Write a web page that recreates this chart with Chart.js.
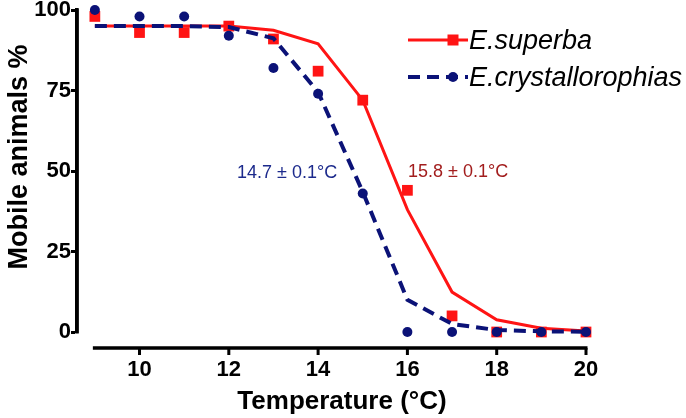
<!DOCTYPE html>
<html>
<head>
<meta charset="utf-8">
<script src="https://cdn.jsdelivr.net/npm/chart.js@4/dist/chart.umd.min.js"></script>
<style>
html,body{margin:0;padding:0;background:#fff;}
</style>
</head>
<body>
<canvas id="c" width="686" height="418"></canvas>
<script>
const temperatures = [9, 10, 11, 12, 13, 14, 15, 16, 17, 18, 19, 20];
const superbaObserved = [98, 93, 93, 95, 91, 81, 72, 44, 5, 0, 0, 0];
const superbaFit = [95, 95, 95, 95, 93.7, 89.5, 72, 38, 12.4, 3.8, 1.2, 0.3];
const crystalObserved = [100, 98, 98, 92, 82, 74, 43, 0, 0, 0, 0, 0];
const crystalFit = [95, 95, 95, 94.7, 91.2, 74.5, 43.5, 10, 2.5, 0.6, 0.2, 0.1];
const xTickValues = [10, 12, 14, 16, 18, 20];
const yTickValues = [0, 25, 50, 75, 100];
const seriesNames = ['E.superba', 'E.crystallorophias'];
const ld50Labels = ['14.7 \u00b1 0.1\u00b0C', '15.8 \u00b1 0.1\u00b0C'];

const RED = '#ff1414';
const NAVY = '#0b1277';
const FONT = "'Liberation Sans', Arial, sans-serif";

const pts = (ys) => temperatures.map((t, i) => ({x: t, y: ys[i]}));

const customPlugin = {
  id: 'custom',
  afterDraw(chart) {
    const ctx = chart.ctx;
    const xs = chart.scales.x, ys = chart.scales.y;
    ctx.save();
    ctx.setLineDash([]);
    ctx.fillStyle = '#000';
    // y axis line (0..100)
    const y0 = ys.getPixelForValue(0), y100 = ys.getPixelForValue(100);
    ctx.fillRect(xs.left - 1.75, y100 - 1.5, 3.5, (y0 - y100) + 3);
    // offset x axis line with tick marks (9..20)
    const xAxY = ys.bottom + 16;
    const x9 = xs.getPixelForValue(9), x20 = xs.getPixelForValue(20);
    ctx.fillRect(x9 - 2, xAxY - 1.75, (x20 - x9) + 3.5, 3.5);
    xTickValues.forEach(v => {
      const px = xs.getPixelForValue(v);
      ctx.fillRect(px - 1.5, xAxY, 3, 7);
    });

    // axis titles
    ctx.font = 'bold 26px ' + FONT;
    ctx.textAlign = 'center';
    ctx.textBaseline = 'middle';
    ctx.fillText('Temperature (\u00b0C)', 342, 402);
    ctx.save();
    ctx.translate(20, 157);
    ctx.rotate(-Math.PI / 2);
    ctx.font = 'bold 27px ' + FONT;
    ctx.fillText('Mobile animals %', 0, 0);
    ctx.restore();

    // LT50 annotations
    ctx.font = '18px ' + FONT;
    ctx.textAlign = 'left';
    ctx.fillStyle = '#1c2a8c';
    ctx.fillText(ld50Labels[0], 237, 173);
    ctx.fillStyle = '#a21d1d';
    ctx.fillText(ld50Labels[1], 408, 172);

    // legend
    const lx0 = 408, lx1 = 468, mx = 453;
    const rows = [40, 77];
    ctx.lineWidth = 3;
    ctx.strokeStyle = RED;
    ctx.beginPath(); ctx.moveTo(lx0, rows[0]); ctx.lineTo(lx1, rows[0]); ctx.stroke();
    ctx.fillStyle = RED;
    ctx.fillRect(mx - 5.5, rows[0] - 5.5, 11, 11);
    ctx.strokeStyle = NAVY;
    ctx.lineWidth = 4;
    ctx.setLineDash([12, 7]);
    ctx.beginPath(); ctx.moveTo(lx0, rows[1]); ctx.lineTo(lx1, rows[1]); ctx.stroke();
    ctx.setLineDash([]);
    ctx.fillStyle = NAVY;
    ctx.beginPath(); ctx.arc(mx, rows[1], 5, 0, Math.PI * 2); ctx.fill();
    ctx.fillStyle = '#000';
    ctx.font = 'italic 27px ' + FONT;
    ctx.textBaseline = 'middle';
    ctx.fillText(seriesNames[0], 469, rows[0] + 1);
    ctx.fillText(seriesNames[1], 469, rows[1] + 1);
    ctx.restore();
  }
};

new Chart(document.getElementById('c'), {
  type: 'line',
  data: {
    datasets: [
      {label: seriesNames[1] + ' data', data: pts(crystalObserved), showLine: false,
       pointStyle: 'circle', pointRadius: 5, pointHoverRadius: 5, clip: false,
       pointBackgroundColor: NAVY, pointBorderWidth: 0, borderColor: NAVY, order: 0},
      {label: seriesNames[1] + ' fit', data: pts(crystalFit), borderColor: NAVY, clip: false,
       borderWidth: 4, borderDash: [12, 7], pointRadius: 0, tension: 0, fill: false, order: 1},
      {label: seriesNames[0] + ' data', data: pts(superbaObserved), showLine: false,
       pointStyle: 'rect', pointRadius: 7.6, pointHoverRadius: 7.6, clip: false,
       pointBackgroundColor: RED, pointBorderWidth: 0, borderColor: RED, order: 2},
      {label: seriesNames[0] + ' fit', data: pts(superbaFit), borderColor: RED, clip: false,
       borderWidth: 3, pointRadius: 0, tension: 0, fill: false, order: 3}
    ]
  },
  options: {
    responsive: false,
    animation: false,
    events: [],
    layout: {padding: {top: 10, right: 100, left: 0, bottom: 0}},
    plugins: {legend: {display: false}, tooltip: {enabled: false}},
    scales: {
      x: {
        type: 'linear', min: 8.6, max: 20,
        afterBuildTicks: (s) => { s.ticks = xTickValues.map(v => ({value: v})); },
        afterFit: (s) => { s.height = 86; },
        grid: {display: false, drawOnChartArea: false, drawTicks: false},
        border: {display: false},
        ticks: {color: '#000', font: {family: FONT, size: 22, weight: 'bold', lineHeight: 0.9}, padding: 28, maxRotation: 0}
      },
      y: {
        type: 'linear', min: 0, max: 100,
        afterBuildTicks: (s) => { s.ticks = yTickValues.map(v => ({value: v})); },
        afterFit: (s) => { s.width = 77; },
        grid: {display: true, drawOnChartArea: false, drawTicks: true, tickLength: 6, tickWidth: 3, color: '#000'},
        border: {display: true, color: '#000', width: 3.5},
        ticks: {color: '#000', font: {family: FONT, size: 22, weight: 'bold', lineHeight: 0.9}, padding: 0}
      }
    }
  },
  plugins: [customPlugin]
});
</script>
</body>
</html>
